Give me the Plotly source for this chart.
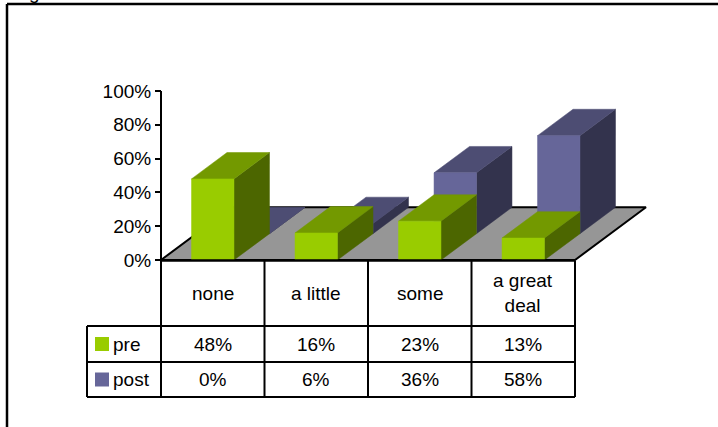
import plotly.graph_objects as go

# ---------------- data ----------------
categories = ["none", "a little", "some", "a great deal"]
header_labels = ["none", "a little", "some", "a great<br>deal"]
series_names = ["pre", "post"]
pre_values = [48, 16, 23, 13]
post_values = [0, 6, 36, 58]
tick_values = [0, 20, 40, 60, 80, 100]
tick_labels = ["0%", "20%", "40%", "60%", "80%", "100%"]

# ---------------- styling / geometry ----------------
W, H = 718, 427
FONT = "Liberation Sans, Arial, sans-serif"
FS = 19
PX_X0 = 161.0        # pixel x of category-axis origin
PX_CAT = 103.5       # pixels per category
PX_Y0 = 260.0        # pixel y of 0%
PX_PCT = 1.69        # pixels per percent
DX = 35.5 / PX_CAT   # depth offset per series row (category units)
DY = 26.35 / PX_PCT  # depth offset per series row (percent units)
BAR_W = 0.41

colors = {
    "pre": {"front": "#99CC00", "top": "#739900", "side": "#4C6600"},
    "post": {"front": "#666699", "top": "#4D4D73", "side": "#33334D"},
}

x_range = [(0 - PX_X0) / PX_CAT, (W - PX_X0) / PX_CAT]
y_range = [(PX_Y0 - H) / PX_PCT, PX_Y0 / PX_PCT]


def px_x(px):
    return px / W


def px_y(px):
    return 1 - px / H


fig = go.Figure()

# floor
n = len(categories)
floor_x = [0, n, n + 2 * DX, 2 * DX, 0]
floor_y = [0, 0, 2 * DY, 2 * DY, 0]
fig.add_trace(go.Scatter(x=floor_x, y=floor_y, fill="toself", fillcolor="#969696",
                         mode="lines", line=dict(color="black", width=2),
                         hoverinfo="skip", showlegend=False))


def poly(xs, ys, color):
    fig.add_trace(go.Scatter(x=xs + [xs[0]], y=ys + [ys[0]], fill="toself",
                             fillcolor=color, mode="lines",
                             line=dict(color=color, width=0.5),
                             hoverinfo="skip", showlegend=False))


series_values = {"pre": pre_values, "post": post_values}
# draw back row first
for row in [1, 0]:
    name = series_names[row]
    vals = series_values[name]
    c = colors[name]
    ox, oy = row * DX, row * DY
    for i, v in enumerate(vals):
        x0 = i + 0.5 - BAR_W / 2 + ox
        x1 = i + 0.5 + BAR_W / 2 + ox
        y0 = oy
        y1 = oy + v
        # side
        poly([x1, x1 + DX, x1 + DX, x1], [y0, y0 + DY, y1 + DY, y1], c["side"])
        # top
        poly([x0, x1, x1 + DX, x0 + DX], [y1, y1, y1 + DY, y1 + DY], c["top"])
        # front
        if v > 0:
            poly([x0, x1, x1, x0], [y0, y0, y1, y1], c["front"])

shapes = []
# value axis line
shapes.append(dict(type="line", xref="x", yref="y", x0=0, x1=0, y0=0, y1=100,
                   line=dict(color="black", width=2), layer="above"))

# data table
T_TOP, T_HEAD, T_PRE, T_POST = 260.5, 326, 362, 397
LEG_LEFT = 87
for yy in [T_TOP]:
    shapes.append(dict(type="line", xref="x", yref="paper", x0=0, x1=n,
                       y0=px_y(yy), y1=px_y(yy), line=dict(color="black", width=2.5)))
for yy in [T_HEAD, T_PRE, T_POST]:
    shapes.append(dict(type="line", xref="paper", yref="paper", x0=px_x(LEG_LEFT),
                       x1=px_x(PX_X0 + n * PX_CAT), y0=px_y(yy), y1=px_y(yy),
                       line=dict(color="black", width=2)))
for k in range(n + 1):
    shapes.append(dict(type="line", xref="x", yref="paper", x0=k, x1=k,
                       y0=px_y(T_TOP), y1=px_y(T_POST), line=dict(color="black", width=2)))
shapes.append(dict(type="line", xref="paper", yref="paper", x0=px_x(LEG_LEFT),
                   x1=px_x(LEG_LEFT), y0=px_y(T_HEAD), y1=px_y(T_POST),
                   line=dict(color="black", width=2)))

annotations = []
for i, lab in enumerate(header_labels):
    annotations.append(dict(x=i + 0.5, xref="x", y=px_y((T_TOP + T_HEAD) / 2), yref="paper",
                            text=lab, showarrow=False, font=dict(family=FONT, size=FS, color="black"),
                            xanchor="center", yanchor="middle"))
rows = [(series_names[0], pre_values, T_HEAD, T_PRE), (series_names[1], post_values, T_PRE, T_POST)]
for name, vals, ya, yb in rows:
    yc = (ya + yb) / 2
    for i, v in enumerate(vals):
        annotations.append(dict(x=i + 0.5, xref="x", y=px_y(yc), yref="paper",
                                text=f"{v}%", showarrow=False,
                                font=dict(family=FONT, size=FS, color="black"),
                                xanchor="center", yanchor="middle"))
    # legend key
    shapes.append(dict(type="rect", xref="paper", yref="paper", x0=px_x(95), x1=px_x(109),
                       y0=px_y(yc - 7), y1=px_y(yc + 7), fillcolor=colors[name]["front"],
                       line=dict(width=0)))
    annotations.append(dict(x=px_x(111), xref="paper", y=px_y(yc), yref="paper", text=name,
                            showarrow=False, font=dict(family=FONT, size=FS, color="black"),
                            xanchor="left", yanchor="middle"))

# outer frame (partially visible)
shapes.append(dict(type="line", xref="paper", yref="paper", x0=px_x(7), x1=px_x(7),
                   y0=px_y(4), y1=px_y(440), line=dict(color="black", width=2.5)))
shapes.append(dict(type="line", xref="paper", yref="paper", x0=px_x(7), x1=px_x(740),
                   y0=px_y(4), y1=px_y(4), line=dict(color="black", width=2.5)))
annotations.append(dict(x=px_x(34), xref="paper", y=px_y(-7), yref="paper", text="g",
                        showarrow=False, font=dict(family=FONT, size=FS, color="black"),
                        xanchor="center", yanchor="middle"))

fig.update_layout(
    width=W, height=H, margin=dict(l=0, r=0, t=0, b=0),
    paper_bgcolor="white", plot_bgcolor="white",
    showlegend=False,
    xaxis=dict(range=x_range, visible=False, fixedrange=True),
    yaxis=dict(range=y_range, anchor="free", position=PX_X0 / W, side="left",
               tickvals=tick_values, ticktext=tick_labels, ticks="outside",
               ticklen=6, tickwidth=2, tickcolor="black",
               tickfont=dict(family=FONT, size=FS, color="black"),
               showgrid=False, zeroline=False, showline=False, fixedrange=True),
    shapes=shapes, annotations=annotations,
)

fig.write_html("out.html")
